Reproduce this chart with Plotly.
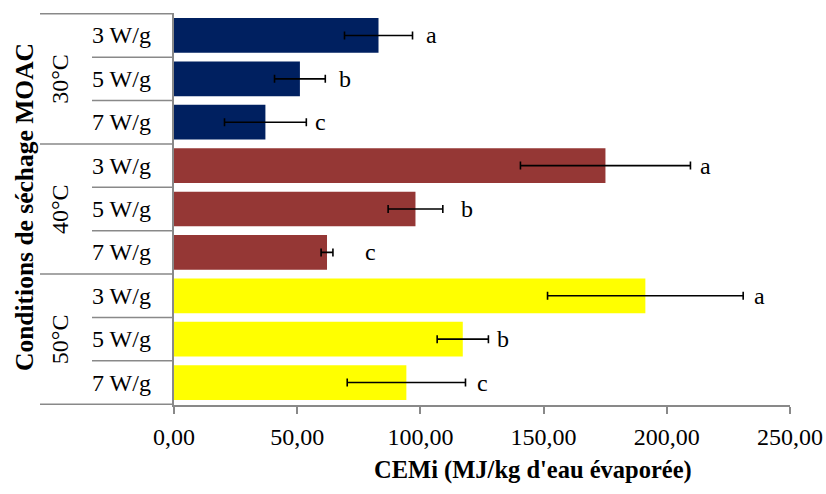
import plotly.graph_objects as go

groups = ["30°C", "40°C", "50°C"]
powers = ["3 W/g", "5 W/g", "7 W/g"]
values_30 = [83.0, 51.1, 37.1]
errors_30 = [13.8, 10.3, 16.6]
values_40 = [175.1, 98.0, 62.1]
errors_40 = [34.5, 11.1, 2.4]
values_50 = [191.3, 117.2, 94.3]
errors_50 = [39.7, 10.4, 24.0]
letters = ["a", "b", "c"]
colors = ["#002060", "#953735", "#FFFF00"]
x_ticks = [0, 50, 100, 150, 200, 250]

FONT = "Liberation Serif, Times New Roman, serif"
GRAY = "#898989"

values = [values_30, values_40, values_50]
errors = [errors_30, errors_40, errors_50]

cats = [f"{g} {p}" for g in groups for p in powers]

fig = go.Figure()
for gi, g in enumerate(groups):
    fig.add_trace(go.Bar(
        y=[f"{g} {p}" for p in powers],
        x=values[gi],
        orientation="h",
        marker=dict(color=colors[gi], line=dict(width=0)),
        error_x=dict(type="data", array=errors[gi], visible=True,
                     color="black", thickness=1.6, width=4),
        showlegend=False,
        hoverinfo="x+y",
    ))

# letter labels (pixel offsets beyond error bar end)
label_shift = [[11, 12, 7], [8, 16, 30], [9, 7, 10]]
annotations = []
for gi, g in enumerate(groups):
    for pi, p in enumerate(powers):
        annotations.append(dict(
            x=values[gi][pi] + errors[gi][pi], y=f"{g} {p}",
            xref="x", yref="y", text=letters[pi], showarrow=False,
            xanchor="left", yanchor="middle", xshift=label_shift[gi][pi],
            font=dict(family=FONT, size=24, color="black")))
        annotations.append(dict(
            x=0, y=f"{g} {p}", xref="paper", yref="y", text=p,
            showarrow=False, xanchor="right", yanchor="middle", xshift=-21,
            font=dict(family=FONT, size=24, color="black")))
    annotations.append(dict(
        x=0, y=gi * 3 + 1, xref="paper", yref="y", text=g, showarrow=False,
        textangle=-90, xanchor="center", yanchor="middle", xshift=-114,
        font=dict(family=FONT, size=24, color="black")))

annotations.append(dict(
    x=0, y=0.5, xref="paper", yref="paper", text="<b>Conditions de séchage MOAC</b>",
    showarrow=False, textangle=-90, xanchor="center", yanchor="middle",
    xshift=-150, yshift=2, font=dict(family=FONT, size=25.5, color="black")))
annotations.append(dict(
    x=0.5, y=0, xref="paper", yref="paper", text="<b>CEMi (MJ/kg d'eau évaporée)</b>",
    showarrow=False, xanchor="center", yanchor="middle",
    xshift=51, yshift=-65, font=dict(family=FONT, size=24.5, color="black")))

shapes = []
n = len(cats)
for b in range(n + 1):
    yb = b - 0.5
    x0 = -134 if b % 3 == 0 else -82
    shapes.append(dict(type="line", xref="paper", xsizemode="pixel", xanchor=0,
                       x0=x0, x1=0, yref="y", y0=yb, y1=yb,
                       line=dict(color=GRAY, width=1.5)))

fig.update_layout(
    width=826, height=494,
    margin=dict(l=174, r=36, t=13, b=89, autoexpand=False),
    paper_bgcolor="white", plot_bgcolor="white",
    bargap=0.2, barmode="group",
    separators=", ",
    font=dict(family=FONT, size=24, color="black"),
    annotations=annotations, shapes=shapes,
    xaxis=dict(range=[0, 250], tickvals=x_ticks, tickformat=".2f",
               automargin=False,
               showgrid=False, zeroline=False, showline=True,
               linecolor=GRAY, linewidth=1.5, ticks="outside", ticklen=7,
               tickcolor=GRAY, tickwidth=1.5, ticklabelstandoff=2,
               tickfont=dict(family=FONT, size=24, color="black")),
    yaxis=dict(categoryorder="array", categoryarray=cats, autorange="reversed",
               automargin=False,
               showticklabels=False, showgrid=False, zeroline=False,
               showline=True, linecolor=GRAY, linewidth=1.5, ticks=""),
)

fig.write_html(
    "out.html",
    config={"displayModeBar": False},
    post_script="document.body.style.margin='0';document.body.style.overflow='hidden';",
)
